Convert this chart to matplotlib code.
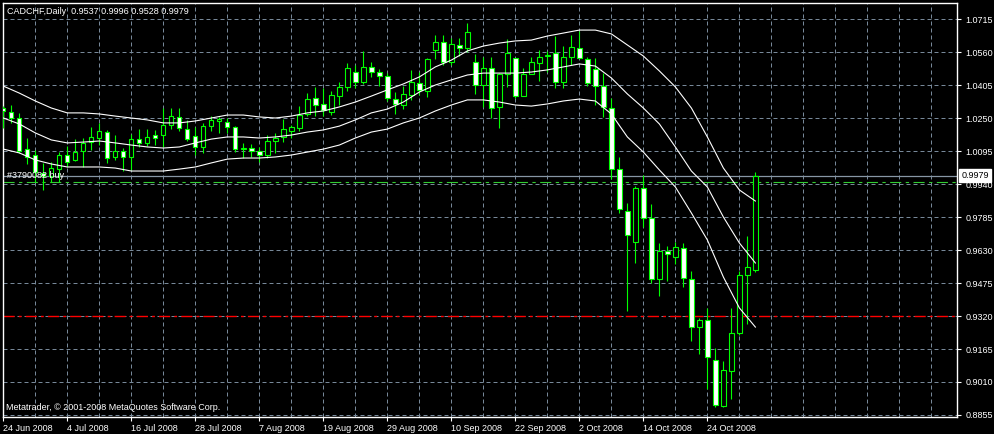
import matplotlib
matplotlib.use('Agg')
import matplotlib.pyplot as plt
import matplotlib.transforms as mtransforms
from matplotlib.patches import Rectangle

# daily candles, 24 Jun 2008 .. 3 Nov 2008
opens = [1.0297, 1.0278, 1.0250, 1.0104, 1.0076, 0.9992, 0.9978, 1.0010, 1.0076, 1.0053,
         1.0095, 1.0137, 1.0156, 1.0184, 1.0067, 1.0095, 1.0067, 1.0151, 1.0133, 1.0170,
         1.0170, 1.0217, 1.0255, 1.0198, 1.0165, 1.0114, 1.0212, 1.0236, 1.0231, 1.0208,
         1.0104, 1.0109, 1.0095, 1.0076, 1.0142, 1.0161, 1.0189, 1.0203, 1.0269, 1.0344,
         1.0316, 1.0278, 1.0353, 1.0396, 1.0466, 1.0419, 1.0489, 1.0466, 1.0447, 1.0339,
         1.0311, 1.0358, 1.0414, 1.0377, 1.0569, 1.0607, 1.0513, 1.0593, 1.0579, 1.0513,
         1.0405, 1.0485, 1.0302, 1.0457, 1.0532, 1.0353, 1.0457, 1.0508, 1.0541, 1.0555,
         1.0419, 1.0537, 1.0579, 1.0527, 1.0480, 1.0400, 1.0297, 1.0010, 0.9813, 0.9668,
         0.9921, 0.9780, 0.9494, 0.9625, 0.9597, 0.9640, 0.9494, 0.9268, 0.9301, 0.9113,
         0.8897, 0.9062, 0.9240, 0.9513, 0.9537]
highs = [1.0306, 1.0311, 1.0273, 1.0156, 1.0100, 1.0039, 1.0043, 1.0090, 1.0118, 1.0151,
         1.0156, 1.0208, 1.0227, 1.0194, 1.0170, 1.0109, 1.0175, 1.0198, 1.0198, 1.0194,
         1.0297, 1.0297, 1.0297, 1.0241, 1.0208, 1.0227, 1.0259, 1.0255, 1.0250, 1.0212,
         1.0133, 1.0128, 1.0114, 1.0170, 1.0180, 1.0245, 1.0217, 1.0306, 1.0367, 1.0396,
         1.0391, 1.0377, 1.0419, 1.0508, 1.0499, 1.0565, 1.0513, 1.0480, 1.0461, 1.0372,
         1.0400, 1.0475, 1.0466, 1.0532, 1.0640, 1.0640, 1.0626, 1.0626, 1.0696, 1.0551,
         1.0537, 1.0537, 1.0461, 1.0621, 1.0532, 1.0485, 1.0537, 1.0569, 1.0565, 1.0635,
         1.0588, 1.0640, 1.0659, 1.0537, 1.0532, 1.0461, 1.0344, 1.0067, 0.9851, 0.9931,
         0.9982, 0.9846, 0.9663, 0.9649, 0.9668, 0.9663, 0.9532, 0.9311, 0.9358, 0.9170,
         0.9109, 0.9358, 0.9532, 0.9696, 0.9996]
lows = [1.0203, 1.0227, 1.0086, 1.0034, 0.9949, 0.9912, 0.9949, 0.9949, 1.0020, 1.0048,
        1.0020, 1.0100, 1.0123, 1.0039, 1.0053, 1.0001, 1.0006, 1.0114, 1.0118, 1.0123,
        1.0114, 1.0198, 1.0189, 1.0142, 1.0076, 1.0086, 1.0189, 1.0180, 1.0180, 1.0090,
        1.0062, 1.0067, 1.0043, 1.0062, 1.0086, 1.0137, 1.0156, 1.0189, 1.0259, 1.0259,
        1.0259, 1.0264, 1.0311, 1.0377, 1.0391, 1.0410, 1.0442, 1.0400, 1.0330, 1.0269,
        1.0292, 1.0335, 1.0358, 1.0349, 1.0527, 1.0499, 1.0499, 1.0541, 1.0560, 1.0363,
        1.0302, 1.0250, 1.0203, 1.0396, 1.0344, 1.0353, 1.0457, 1.0424, 1.0466, 1.0391,
        1.0391, 1.0499, 1.0532, 1.0400, 1.0311, 1.0255, 0.9963, 0.9804, 0.9344, 0.9569,
        0.9738, 0.9475, 0.9414, 0.9485, 0.9564, 0.9457, 0.9203, 0.9141, 0.8977, 0.8893,
        0.8893, 0.8930, 0.9231, 0.9283, 0.9528]
closes = [1.0283, 1.0250, 1.0095, 1.0067, 0.9996, 0.9978, 1.0015, 1.0076, 1.0043, 1.0090,
          1.0133, 1.0161, 1.0189, 1.0062, 1.0095, 1.0067, 1.0151, 1.0133, 1.0161, 1.0156,
          1.0217, 1.0259, 1.0203, 1.0151, 1.0114, 1.0212, 1.0241, 1.0245, 1.0208, 1.0104,
          1.0109, 1.0095, 1.0076, 1.0142, 1.0156, 1.0198, 1.0208, 1.0264, 1.0339, 1.0311,
          1.0288, 1.0358, 1.0396, 1.0485, 1.0419, 1.0489, 1.0466, 1.0447, 1.0344, 1.0316,
          1.0363, 1.0419, 1.0381, 1.0527, 1.0607, 1.0513, 1.0598, 1.0579, 1.0654, 1.0405,
          1.0485, 1.0297, 1.0457, 1.0555, 1.0353, 1.0457, 1.0513, 1.0537, 1.0546, 1.0419,
          1.0537, 1.0583, 1.0532, 1.0414, 1.0400, 1.0302, 1.0010, 0.9823, 0.9700, 0.9921,
          0.9780, 0.9494, 0.9625, 0.9611, 0.9644, 0.9499, 0.9268, 0.9301, 0.9127, 0.8902,
          0.9066, 0.9240, 0.9513, 0.9550, 0.9979]

# indicator lines, read every second bar
band_bars = list(range(0, 95, 2))
upper = [1.0400, 1.0367, 1.0330, 1.0297, 1.0274, 1.0274, 1.0269, 1.0259, 1.0250, 1.0241,
         1.0227, 1.0227, 1.0236, 1.0250, 1.0264, 1.0264, 1.0255, 1.0250, 1.0259, 1.0274,
         1.0283, 1.0302, 1.0325, 1.0353, 1.0382, 1.0410, 1.0443, 1.0490, 1.0522, 1.0565,
         1.0588, 1.0602, 1.0612, 1.0616, 1.0635, 1.0649, 1.0663, 1.0663, 1.0645, 1.0593,
         1.0541, 1.0471, 1.0396, 1.0297, 1.0161, 1.0015, 0.9912, 0.9860]
middle = [1.0250, 1.0222, 1.0180, 1.0147, 1.0133, 1.0137, 1.0142, 1.0133, 1.0123, 1.0114,
          1.0109, 1.0114, 1.0133, 1.0151, 1.0161, 1.0161, 1.0156, 1.0161, 1.0170, 1.0184,
          1.0194, 1.0212, 1.0241, 1.0274, 1.0292, 1.0325, 1.0372, 1.0405, 1.0429, 1.0452,
          1.0461, 1.0461, 1.0461, 1.0466, 1.0476, 1.0490, 1.0504, 1.0494, 1.0438, 1.0363,
          1.0297, 1.0222, 1.0114, 1.0001, 0.9926, 0.9785, 0.9663, 0.9569]
lower = [1.0104, 1.0086, 1.0053, 1.0034, 1.0020, 1.0020, 1.0020, 1.0015, 1.0001, 1.0001,
         1.0001, 1.0010, 1.0020, 1.0039, 1.0057, 1.0062, 1.0062, 1.0067, 1.0076, 1.0090,
         1.0104, 1.0123, 1.0156, 1.0184, 1.0198, 1.0227, 1.0250, 1.0283, 1.0311, 1.0335,
         1.0335, 1.0325, 1.0311, 1.0306, 1.0316, 1.0330, 1.0339, 1.0330, 1.0269, 1.0161,
         1.0090, 1.0006, 0.9926, 0.9804, 0.9677, 0.9503, 0.9358, 0.9268]

price_ticks = [1.0715, 1.0560, 1.0405, 1.0250, 1.0095, 0.9940, 0.9785,
               0.9630, 0.9475, 0.9320, 0.9165, 0.9010, 0.8855]
date_bars = [0, 8, 16, 24, 32, 40, 48, 56, 64, 72, 80, 88]
date_labels = ['24 Jun 2008', '4 Jul 2008', '16 Jul 2008', '28 Jul 2008', '7 Aug 2008',
               '19 Aug 2008', '29 Aug 2008', '10 Sep 2008', '22 Sep 2008', '2 Oct 2008',
               '14 Oct 2008', '24 Oct 2008']
grid_bars = list(range(4, 120, 4))

bid = 0.9979
order_price = 0.9951
order_label = '#3790082 buy'
level_price = 0.9320
title = 'CADCHF,Daily  0.9537 0.9996 0.9528 0.9979'
copyright_text = 'Metatrader, \u00a9 2001-2008 MetaQuotes Software Corp.'

plt.rcParams['font.family'] = ['Liberation Sans', 'DejaVu Sans']
fs = 6.5
lime = '#00ff00'
gridc = '#778899'

fig = plt.figure(figsize=(9.94, 4.34), dpi=100, facecolor='black')
ax = fig.add_axes([3/994, 17/434, 954/994, 414/434])
ax.set_facecolor('black')
ax.set_xlim(-0.04, 119.2)
ax.set_ylim(0.88456, 1.07902)

# grid
for g in grid_bars:
    ax.axvline(g, color=gridc, lw=0.72, linestyle=(0, (4, 3)), zorder=1)
for p in price_ticks:
    ax.axhline(p, color=gridc, lw=0.72, linestyle=(0, (4, 3)), zorder=1)

# horizontal levels
ax.axhline(level_price, color='#ff0000', lw=1.0, linestyle=(0, (8, 3, 2, 3)), zorder=2)
ax.axhline(order_price, color='#32cd32', lw=0.8, linestyle=(0, (10, 4, 3, 4)), zorder=2)
ax.axhline(bid, color='#8796a5', lw=0.9, zorder=2)

# candles
for i in range(len(opens)):
    o, h, l, c = opens[i], highs[i], lows[i], closes[i]
    ax.vlines(i, l, h, color=lime, lw=0.8, zorder=3)
    bottom = min(o, c)
    height = max(abs(c - o), 0.0002)
    face = 'white' if c < o else 'black'
    ax.add_patch(Rectangle((i - 0.27, bottom), 0.54, height, facecolor=face,
                           edgecolor=lime, lw=0.8, zorder=4))

# bands
for band in (upper, middle, lower):
    ax.plot(band_bars, band, color='white', lw=0.8, zorder=5)

# axes styling
for s in ax.spines.values():
    s.set_color('white')
    s.set_linewidth(1.0)
ax.yaxis.tick_right()
ax.set_yticks(price_ticks)
ax.set_yticklabels(['%.4f' % p for p in price_ticks])
ax.set_xticks(date_bars)
ax.set_xticklabels(date_labels, ha='left')
ax.tick_params(axis='both', colors='white', labelsize=fs, length=3, width=0.8, direction='out')
ax.tick_params(axis='y', pad=3)
ax.tick_params(axis='x', pad=2)
for lab in ax.get_xticklabels():
    lab.set_horizontalalignment('left')

# texts
fig.text(7/994, 1 - 11/434, title, color='white', fontsize=fs, va='center', ha='left')
fig.text(6/994, 1 - 408/434, copyright_text, color='white', fontsize=fs, va='center', ha='left')
fig.text(7/994, 1 - 176/434, order_label, color='white', fontsize=fs, va='center', ha='left', zorder=10)

trans = mtransforms.blended_transform_factory(ax.transAxes, ax.transData)
ax.text(1.0045, bid, '%.4f' % bid, transform=trans, color='black', fontsize=fs,
        va='center', ha='left', clip_on=False, zorder=10,
        bbox=dict(facecolor='white', edgecolor='white', pad=1.3))

fig.savefig('out.png', dpi=100, facecolor='black')
